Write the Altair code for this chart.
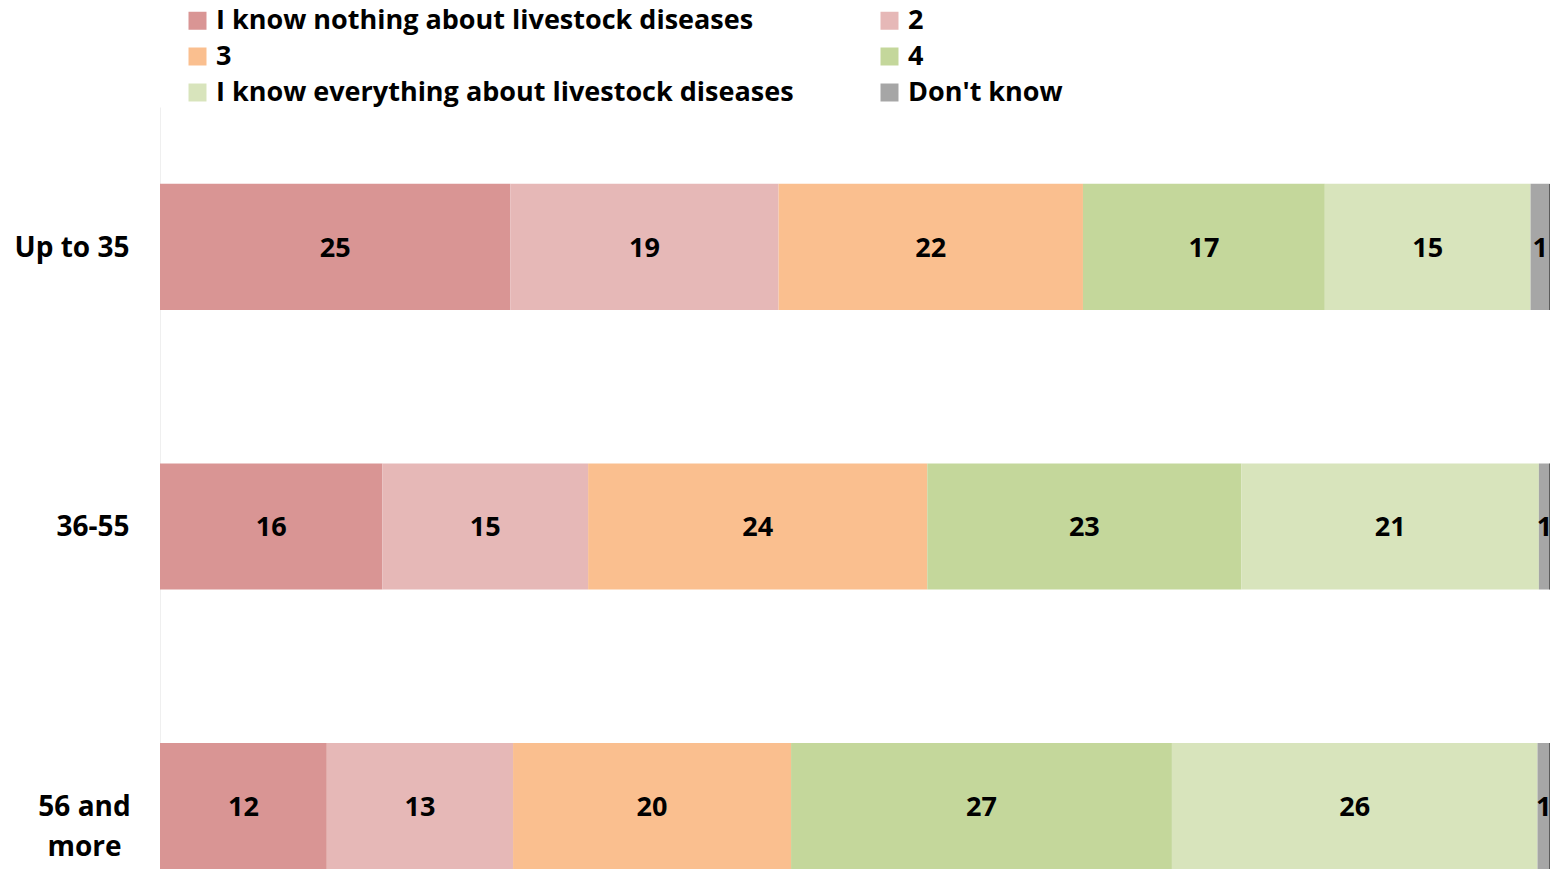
import altair as alt
import pandas as pd

groups = ["Up to 35", "36-55", "56 and more"]
levels = [
    "I know nothing about livestock diseases",
    "2",
    "3",
    "4",
    "I know everything about livestock diseases",
    "Don't know",
]
colors = ["#D99594", "#E6B8B7", "#FABF8F", "#C4D79B", "#D8E4BC", "#A6A6A6"]
up_to_35 = [25.2, 19.3, 21.9, 17.4, 14.8, 1.4]
age_36_55 = [16.0, 14.8, 24.4, 22.6, 21.4, 0.8]
age_56_more = [12.0, 13.4, 20.0, 27.4, 26.3, 0.9]

rows = []
for g, vals in zip(groups, [up_to_35, age_36_55, age_56_more]):
    for i, (lvl, v) in enumerate(zip(levels, vals)):
        rows.append({"group": g, "level": lvl, "order": i, "value": v})
df = pd.DataFrame(rows)

FONT = "Open Sans"
MULTI = "datum.value == '56 and more'"

y_enc = alt.Y(
    "group:N",
    sort=groups,
    scale=alt.Scale(paddingInner=0.549, paddingOuter=0.1375, align=1),
    axis=alt.Axis(
        title=None,
        ticks=False,
        domain=True,
        domainColor="#efefef",
        domainWidth=1,
        labelFont=FONT,
        labelFontSize=28,
        labelFontWeight="bold",
        labelColor="#000000",
        labelAlign={"condition": {"test": MULTI, "value": "center"}, "value": "right"},
        labelPadding={"condition": {"test": MULTI, "value": 76}, "value": 31},
        labelOffset=2,
        labelLineHeight=40,
        labelExpr="datum.value == '56 and more' ? ['56 and', 'more'] : datum.value",
    ),
)

base = alt.Chart(df).transform_stack(
    stack="value",
    groupby=["group"],
    as_=["x0", "x1"],
    offset="normalize",
    sort=[alt.SortField("order", order="ascending")],
).transform_calculate(mid="(datum.x0 + datum.x1) / 2", lab="format(datum.value, '.0f')")

xscale = alt.Scale(domain=[0, 1], nice=False, zero=True)

bars = base.mark_bar().encode(
    y=y_enc,
    x=alt.X("x0:Q", scale=xscale, axis=None),
    x2="x1:Q",
    color=alt.Color(
        "level:N",
        scale=alt.Scale(domain=levels, range=colors),
        legend=alt.Legend(
            title=None,
            orient="none",
            direction="horizontal",
            legendX=24,
            legendY=-100,
            columns=2,
            columnPadding=82,
            rowPadding=8,
            symbolType="square",
            symbolSize=324,
            symbolStrokeWidth=0,
            labelFont=FONT,
            labelFontSize=27,
            labelFontWeight="bold",
            labelColor="#000000",
            labelOffset=5,
            labelLimit=1000,
            padding=0,
        ),
    ),
)

texts = base.mark_text(font=FONT, fontSize=27, fontWeight="bold", color="#000000", dy=2).encode(
    y=alt.Y("group:N", sort=groups),
    x=alt.X("mid:Q", scale=xscale),
    text="lab:N",
)

edge_df = pd.DataFrame({"group": groups, "pos": [1.0, 1.0, 1.0]})
edge = alt.Chart(edge_df).mark_tick(color="#1a1a1a", thickness=1.5, size=126, orient="vertical").encode(
    y=alt.Y("group:N", sort=groups),
    x=alt.X("pos:Q", scale=xscale),
)

chart = (
    alt.layer(bars, texts, edge)
    .properties(
        width=1390,
        height=762,
        autosize=alt.AutoSizeParams(type="none"),
        padding={"left": 152, "top": 99, "right": 0, "bottom": 0},
    )
    .configure_view(stroke=None)
)

chart.save("out.html", embed_options={"renderer": "svg", "actions": False})
